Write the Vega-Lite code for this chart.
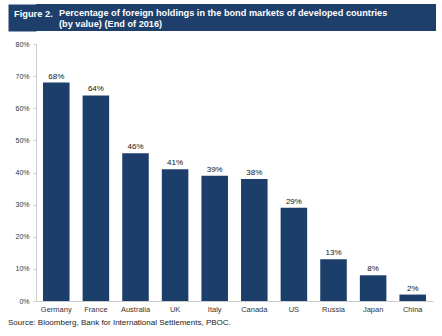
{
  "$schema": "https://vega.github.io/schema/vega-lite/v6.json",
  "background": "white",
  "padding": {"left": 8, "top": 4, "right": 6, "bottom": 4},
  "spacing": 9,
  "config": {"font": "Liberation Sans"},
  "title": {"text": "Source: Bloomberg, Bank for International Settlements, PBOC.", "orient": "bottom", "anchor": "start", "fontSize": 8, "fontWeight": "normal", "color": "#222222", "offset": 6, "font": "Liberation Sans"},
  "vconcat": [
    {
      "width": 400,
      "height": 27,
      "view": {"fill": "#1e3e6b", "stroke": null},
      "data": {"values": [{"t": "Figure 2.", "px": 0, "py": 0.5}]},
      "mark": {"type": "text", "align": "left", "baseline": "alphabetic", "dx": -22, "dy": -1, "color": "white", "fontSize": 9.3, "fontWeight": "bold"},
      "encoding": {
        "text": {"field": "t"},
        "x": {"field": "px", "type": "quantitative", "scale": {"domain": [0, 1]}, "axis": null},
        "y": {"field": "py", "type": "quantitative", "scale": {"domain": [0, 1]},
          "axis": {"title": null, "labels": false, "ticks": false, "grid": false, "domainColor": "#1e3e6b", "domainWidth": 28, "offset": 14}}
      },
      "title": {"text": ["Percentage of foreign holdings in the bond markets of developed countries", "(by value) (End of 2016)"], "orient": "top", "anchor": "start", "frame": "group", "offset": -25, "dx": 23, "color": "white", "fontSize": 9.2, "fontWeight": "bold", "lineHeight": 11}
    },
    {
      "width": 397,
      "height": 257,
      "view": {"stroke": null},
      "data": {"values": [
        {"country": "Germany", "share": 0.68},
        {"country": "France", "share": 0.64},
        {"country": "Australia", "share": 0.46},
        {"country": "UK", "share": 0.41},
        {"country": "Italy", "share": 0.39},
        {"country": "Canada", "share": 0.38},
        {"country": "US", "share": 0.29},
        {"country": "Russia", "share": 0.13},
        {"country": "Japan", "share": 0.08},
        {"country": "China", "share": 0.02}
      ]},
      "encoding": {
        "x": {"field": "country", "type": "nominal", "sort": null, "title": null,
          "scale": {"paddingInner": 0.33, "paddingOuter": 0.177},
          "axis": {"labelAngle": 0, "labelFontSize": 7.5, "labelColor": "#333333", "domainColor": "#cccccc", "ticks": false, "labelPadding": 4}},
        "y": {"field": "share", "type": "quantitative", "title": null,
          "scale": {"domain": [0, 0.8]},
          "axis": {"values": [0, 0.1, 0.2, 0.3, 0.4, 0.5, 0.6, 0.7, 0.8], "format": ".0%", "grid": false, "labelFontSize": 7, "labelColor": "#333333", "domainColor": "#cccccc", "tickColor": "#cccccc", "tickSize": 3, "labelPadding": 4, "minExtent": 28}}
      },
      "layer": [
        {"mark": {"type": "bar", "color": "#1c3e6a"}},
        {"mark": {"type": "text", "dy": -6, "fontSize": 8, "color": "#111111"},
          "encoding": {"text": {"field": "share", "type": "quantitative", "format": ".0%"}}}
      ]
    }
  ]
}
